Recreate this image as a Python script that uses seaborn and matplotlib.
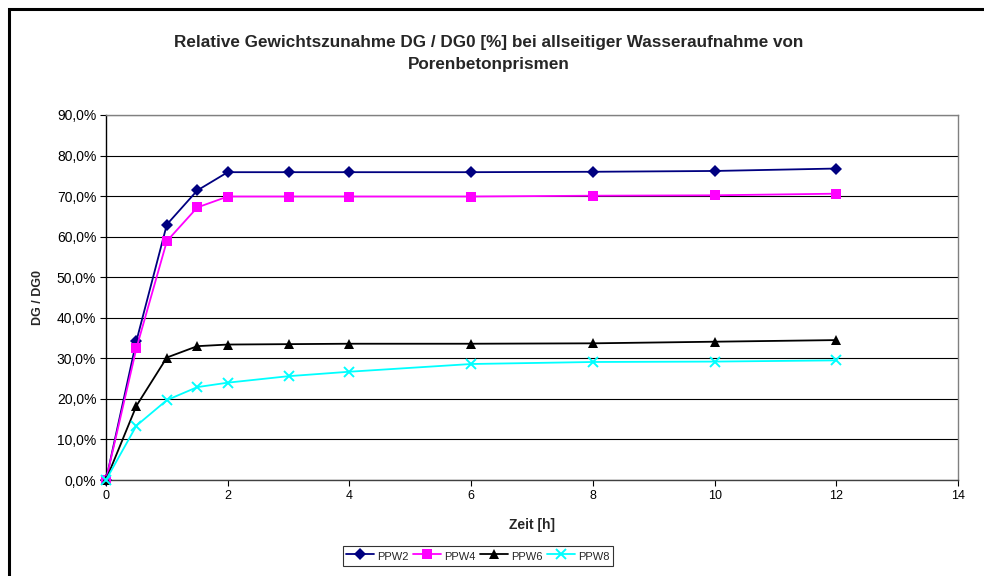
import pandas as pd
import seaborn as sns
import matplotlib.pyplot as plt
from matplotlib.patches import Rectangle
from matplotlib.ticker import FuncFormatter, MultipleLocator

# Zeit [h] and relative weight gain DG / DG0 in percent
zeit = [0, 0.5, 1, 1.5, 2, 3, 4, 6, 8, 10, 12]
ppw2 = [0.0, 34.3, 63.0, 71.4, 75.9, 75.9, 75.9, 75.9, 76.0, 76.2, 76.8]
ppw4 = [0.0, 32.5, 58.9, 67.2, 69.9, 69.9, 69.9, 69.9, 70.1, 70.2, 70.6]
ppw6 = [0.0, 18.3, 30.2, 33.0, 33.4, 33.5, 33.6, 33.6, 33.7, 34.1, 34.5]
ppw8 = [0.0, 13.4, 19.7, 22.9, 24.0, 25.6, 26.7, 28.6, 29.1, 29.2, 29.5]

series = ["PPW2", "PPW4", "PPW6", "PPW8"]
values = [ppw2, ppw4, ppw6, ppw8]

df = pd.concat(
    [pd.DataFrame({"Zeit": zeit, "DG": v, "Probe": s}) for s, v in zip(series, values)],
    ignore_index=True,
)

styles = {
    "PPW2": dict(color="#000080", marker="D", markersize=6, mew=0),
    "PPW4": dict(color="#FF00FF", marker="s", markersize=7, mew=0),
    "PPW6": dict(color="#000000", marker="^", markersize=7.5, mew=0),
    "PPW8": dict(color="#00FFFF", marker="x", markersize=7, mew=1.4),
}

sns.set_style("white")
plt.rcParams["font.family"] = ["Liberation Sans", "DejaVu Sans"]

fig = plt.figure(figsize=(9.84, 5.76), dpi=100)
ax = fig.add_axes([106 / 984, 1 - 480 / 576, 852 / 984, 365 / 576])

for s in series:
    st = styles[s]
    sns.lineplot(
        data=df[df["Probe"] == s], x="Zeit", y="DG", ax=ax, label=s,
        color=st["color"], marker=st["marker"], markersize=st["markersize"],
        markeredgewidth=st["mew"], markeredgecolor=st["color"], linewidth=1.3,
        clip_on=False, zorder=3,
    )

ax.set_xlim(0, 14)
ax.set_ylim(0, 90)
ax.xaxis.set_major_locator(MultipleLocator(2))
ax.yaxis.set_major_locator(MultipleLocator(10))
ax.yaxis.set_major_formatter(FuncFormatter(lambda v, p: f"{v:.1f}%".replace(".", ",")))
ax.tick_params(axis="both", direction="out", length=4, width=0.8,
               colors="black", left=True, bottom=True, pad=3)
ax.tick_params(axis="y", labelsize=10)
ax.tick_params(axis="x", labelsize=9)
ax.grid(axis="y", color="#000000", linewidth=0.8)
ax.set_axisbelow(True)

ax.spines["left"].set_color("black")
ax.spines["bottom"].set_color("#404040")
ax.spines["top"].set_color("#808080")
ax.spines["right"].set_color("#808080")
for sp in ax.spines.values():
    sp.set_linewidth(1.0)
    sp.set_visible(True)

ax.set_xlabel("Zeit [h]", fontsize=10, fontweight="bold", labelpad=12)
ax.set_ylabel("DG / DG0", fontsize=9, fontweight="bold", labelpad=9)

fig.text(0.497, 1 - 43 / 576, "Relative Gewichtszunahme DG / DG0 [%] bei allseitiger Wasseraufnahme von",
         ha="center", va="center", fontsize=12.3, fontweight="bold")
fig.text(0.497, 1 - 65 / 576, "Porenbetonprismen",
         ha="center", va="center", fontsize=12.3, fontweight="bold")

ax.get_legend().remove()
handles, labels = ax.get_legend_handles_labels()
leg = fig.legend(handles, labels, loc="center", bbox_to_anchor=(478 / 984, 1 - 556 / 576),
                 ncol=4, fontsize=8, frameon=True, fancybox=False, edgecolor="black",
                 handlelength=2.5, handleheight=1.6, handletextpad=0.3, columnspacing=0.4,
                 borderpad=0.3, borderaxespad=0)
leg.get_frame().set_linewidth(0.8)

# outer chart frame (runs off the right and bottom edge)
fig.patches.append(Rectangle((9 / 984, -0.2), 1.2, 1 - 9 / 576 + 0.2, transform=fig.transFigure,
                             fill=False, edgecolor="black", linewidth=2.2))

fig.savefig("out.png", dpi=100)
